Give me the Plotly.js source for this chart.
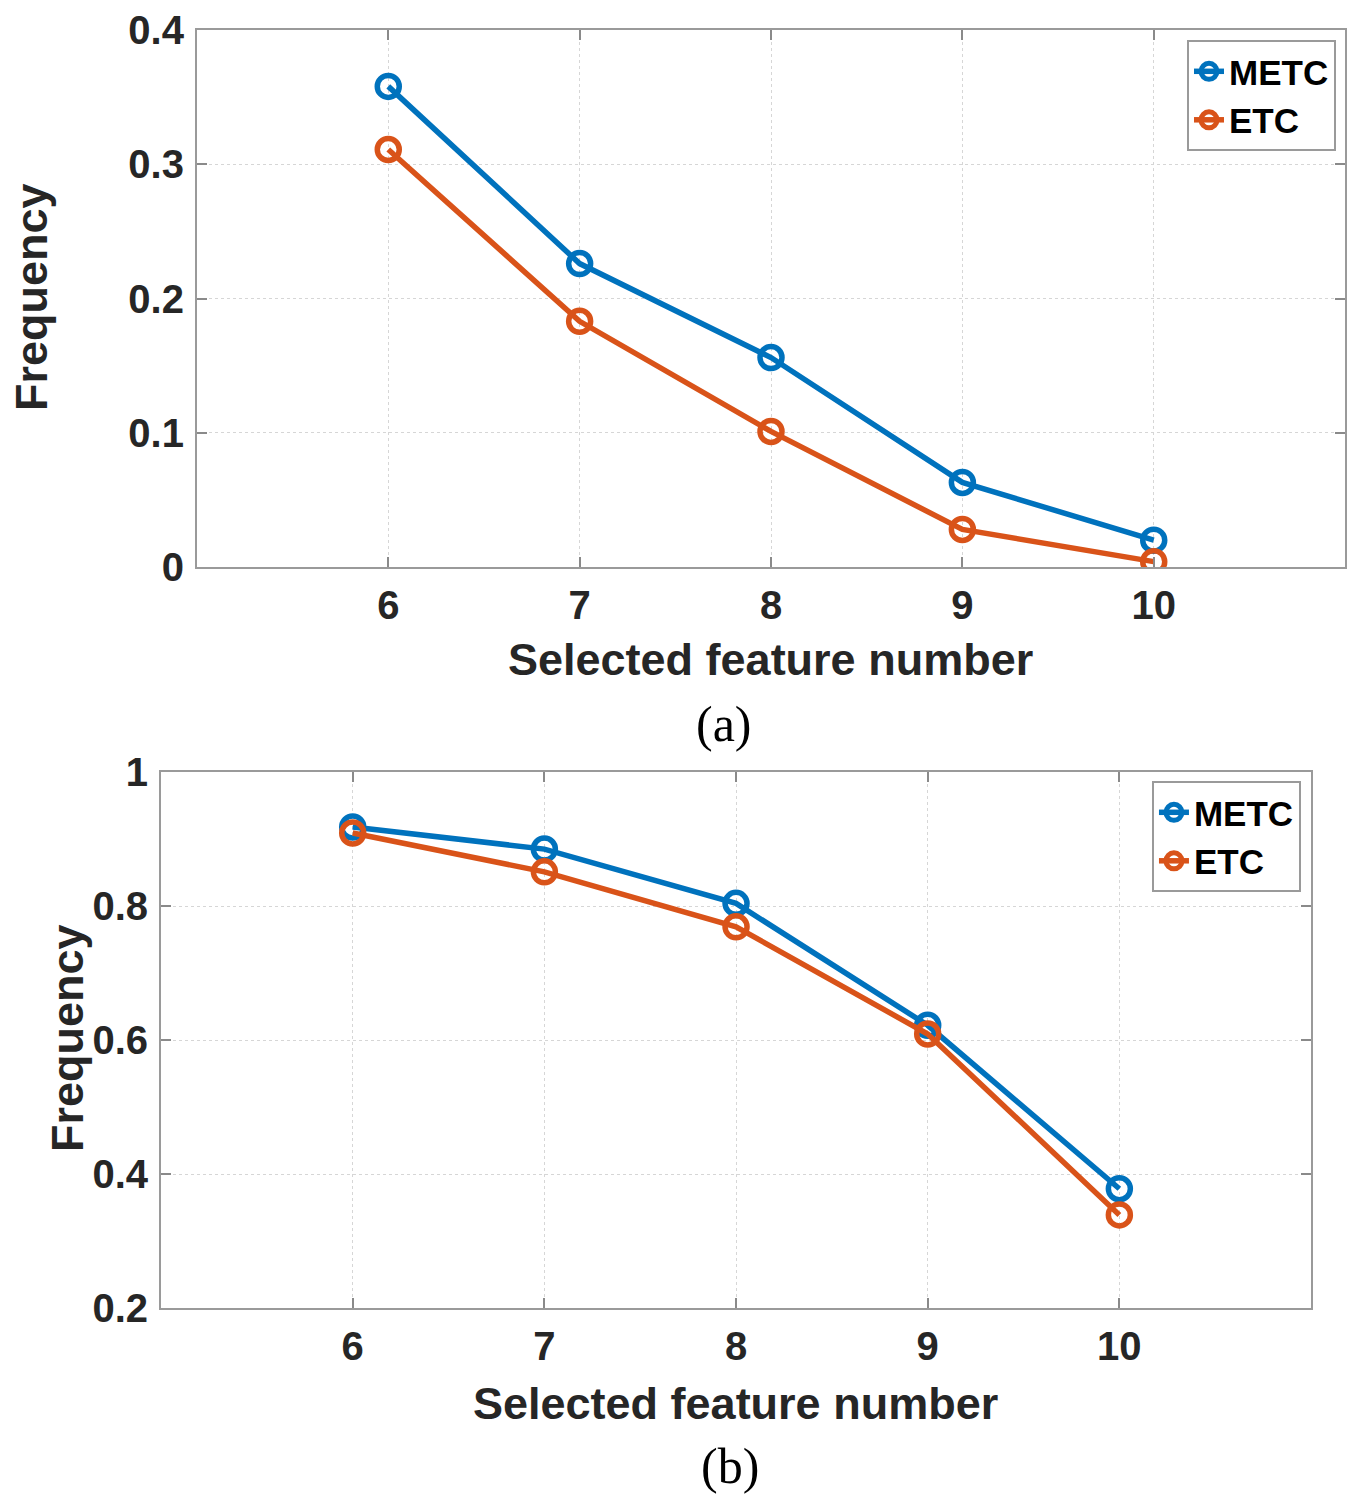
<!DOCTYPE html>
<html>
<head>
<meta charset="utf-8">
<script src="https://cdn.plot.ly/plotly-3.0.1.min.js"></script>
<style>html,body{margin:0;padding:0;background:#fff;}#chart{width:1358px;height:1500px;}</style>
</head>
<body>
<div id="chart"></div>
<script>
const featureNumbers = [6, 7, 8, 9, 10];
const metcA = [0.358, 0.226, 0.156, 0.063, 0.020];
const etcA  = [0.311, 0.183, 0.101, 0.028, 0.004];
const metcB = [0.918, 0.885, 0.804, 0.622, 0.378];
const etcB  = [0.909, 0.851, 0.769, 0.609, 0.339];
const seriesNames = ['METC', 'ETC'];
const captions = ['(a)', '(b)'];
const xTitle = 'Selected feature number';
const yTitle = 'Frequency';

const blue = '#0072BD', orange = '#D95319';
const fontFam = 'Liberation Sans, Arial, sans-serif';

function tr(y, name, color, xa, ya, leg) {
  return {
    x: featureNumbers, y: y, name: name, type: 'scatter', mode: 'lines+markers',
    xaxis: xa, yaxis: ya, legend: leg, showlegend: true,
    line: {color: color, width: 5.5},
    marker: {symbol: 'circle-open', size: 22, color: color, line: {width: 5.5, color: color}}
  };
}

const data = [
  tr(metcA, seriesNames[0], blue, 'x', 'y', 'legend'),
  tr(etcA, seriesNames[1], orange, 'x', 'y', 'legend'),
  tr(metcB, seriesNames[0], blue, 'x2', 'y2', 'legend2'),
  tr(etcB, seriesNames[1], orange, 'x2', 'y2', 'legend2')
];

const tickFont = {family: fontFam, size: 40, color: '#262626', weight: 'bold'};
const titleFont = {family: fontFam, size: 45, color: '#262626', weight: 'bold'};

function xax(domain, anchor) {
  return {
    domain: domain, anchor: anchor, range: [5, 11], tickvals: featureNumbers,
    showline: true, linecolor: '#9a9a9a', linewidth: 2, mirror: 'ticks',
    ticks: 'inside', ticklen: 10, tickwidth: 2, tickcolor: '#8a8a8a',
    showgrid: true, gridcolor: '#d6d6d6', griddash: 'dot', gridwidth: 1,
    zeroline: false, tickfont: tickFont, ticklabelstandoff: 2
  };
}
function yax(domain, anchor, range, dtick) {
  return {
    domain: domain, anchor: anchor, range: range, dtick: dtick, tick0: 0,
    showline: true, linecolor: '#9a9a9a', linewidth: 2, mirror: 'ticks',
    ticks: 'inside', ticklen: 10, tickwidth: 2, tickcolor: '#8a8a8a',
    showgrid: true, gridcolor: '#d6d6d6', griddash: 'dot', gridwidth: 1,
    zeroline: false, tickfont: tickFont, ticklabelstandoff: 3
  };
}

const legendBase = {
  bgcolor: '#ffffff', bordercolor: '#9a9a9a', borderwidth: 2,
  font: {family: fontFam, size: 35, color: '#000', weight: 'bold'},
  xref: 'paper', yref: 'paper', xanchor: 'right', yanchor: 'top',
  itemwidth: 30, tracegroupgap: 0
};

function ann(text, px, py, font, angle) {
  return {text: text, xref: 'paper', yref: 'paper', x: px / 1358, y: 1 - py / 1500,
          showarrow: false, xanchor: 'center', yanchor: 'middle', textangle: angle || 0, font: font};
}
const capFont = {family: 'Liberation Serif, Times New Roman, serif', size: 50, color: '#000'};

const layout = {
  width: 1358, height: 1500,
  margin: {l: 0, r: 0, t: 0, b: 0},
  paper_bgcolor: '#fff', plot_bgcolor: '#fff',
  xaxis: xax([0.145, 0.9905], 'y'),
  yaxis: yax([0.622, 0.98], 'x', [0, 0.4], 0.1),
  xaxis2: xax([0.1186, 0.9654], 'y2'),
  yaxis2: yax([0.128, 0.4853], 'x2', [0.2, 1], 0.2),
  legend: Object.assign({}, legendBase, {x: 0.9838, y: 0.9733}),
  legend2: Object.assign({}, legendBase, {x: 0.958, y: 0.4793}),
  annotations: [
    ann(xTitle, 770, 660, titleFont),
    ann(yTitle, 32, 297, titleFont, -90),
    ann(xTitle, 735, 1403, titleFont),
    ann(yTitle, 67, 1038, titleFont, -90),
    ann(captions[0], 724, 724, capFont),
    ann(captions[1], 730, 1466, capFont)
  ]
};

Plotly.newPlot('chart', data, layout, {staticPlot: true, displayModeBar: false});
</script>
</body>
</html>
